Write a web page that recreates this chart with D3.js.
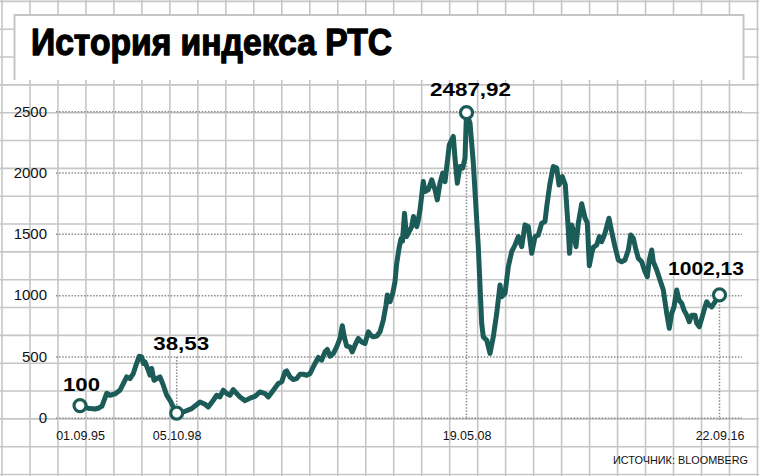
<!DOCTYPE html>
<html>
<head>
<meta charset="utf-8">
<script src="https://cdn.jsdelivr.net/npm/d3@7"></script>
<style>
  html, body { margin: 0; padding: 0; background: #fff; }
  svg { display: block; }
</style>
</head>
<body>
<div id="chart"></div>
<script>
// ---- data ----
const title = "История индекса РТС";
const source = "ИСТОЧНИК: BLOOMBERG";

// time as decimal years
const years = [
  1995.670, 1995.933, 1996.164, 1996.296, 1996.394, 1996.549, 1996.658, 1996.823, 1996.987, 1997.096,
  1997.208, 1997.317, 1997.425, 1997.514, 1997.623, 1997.702, 1997.755, 1997.811, 1997.919, 1997.975,
  1998.031, 1998.107, 1998.196, 1998.304, 1998.413, 1998.469, 1998.525, 1998.634, 1998.742, 1998.854,
  1999.072, 1999.348, 1999.622, 1999.786, 1999.895, 2000.060, 2000.172, 2000.280, 2000.389, 2000.501,
  2000.610, 2000.718, 2000.830, 2000.939, 2001.104, 2001.268, 2001.433, 2001.598, 2001.762, 2001.871,
  2002.036, 2002.200, 2002.312, 2002.421, 2002.477, 2002.586, 2002.694, 2002.806, 2002.915, 2003.023,
  2003.135, 2003.244, 2003.300, 2003.409, 2003.517, 2003.629, 2003.738, 2003.814, 2003.903, 2004.011,
  2004.123, 2004.232, 2004.308, 2004.374, 2004.453, 2004.561, 2004.637, 2004.726, 2004.835, 2004.947,
  2005.055, 2005.164, 2005.243, 2005.329, 2005.441, 2005.549, 2005.658, 2005.747, 2005.790, 2005.879,
  2005.968, 2006.043, 2006.099, 2006.175, 2006.241, 2006.290, 2006.356, 2006.422, 2006.481, 2006.593,
  2006.652, 2006.758, 2006.811, 2006.867, 2006.975, 2007.031, 2007.140, 2007.252, 2007.361, 2007.436,
  2007.525, 2007.614, 2007.690, 2007.831, 2007.963, 2008.019, 2008.095, 2008.184, 2008.273, 2008.348,
  2008.398, 2008.513, 2008.622, 2008.786, 2008.898, 2008.951, 2009.063, 2009.172, 2009.280, 2009.392,
  2009.501, 2009.557, 2009.666, 2009.774, 2009.886, 2009.995, 2010.104, 2010.216, 2010.324, 2010.433,
  2010.545, 2010.654, 2010.762, 2010.874, 2010.983, 2011.039, 2011.148, 2011.256, 2011.368, 2011.444,
  2011.552, 2011.651, 2011.750, 2011.790, 2011.862, 2011.938, 2012.004, 2012.080, 2012.192, 2012.300,
  2012.376, 2012.442, 2012.521, 2012.574, 2012.685, 2012.771, 2012.850, 2012.959, 2013.090, 2013.179,
  2013.288, 2013.397, 2013.508, 2013.617, 2013.726, 2013.805, 2013.891, 2013.980, 2014.055, 2014.167,
  2014.276, 2014.352, 2014.417, 2014.496, 2014.549, 2014.661, 2014.770, 2014.879, 2014.991, 2015.076,
  2015.155, 2015.231, 2015.320, 2015.396, 2015.485, 2015.560, 2015.649, 2015.735, 2015.814, 2015.923,
  2015.979, 2016.064, 2016.176, 2016.252, 2016.308, 2016.384, 2016.473, 2016.581, 2016.729
];
const values = [
  100, 78, 72, 80, 95, 200, 184, 195, 225, 279,
  333, 320, 361, 429, 502, 497, 443, 456, 388, 347,
  402, 306, 320, 333, 266, 225, 184, 143, 88, 38.53,
  47, 75, 129, 110, 88, 143, 184, 170, 225, 198,
  184, 230, 198, 170, 140, 160, 175, 211, 198, 170,
  225, 279, 293, 374, 382, 333, 312, 320, 355, 355,
  347, 361, 388, 443, 492, 470, 538, 557, 502, 524,
  578, 647, 750, 660, 584, 578, 538, 592, 647, 619,
  606, 701, 674, 660, 666, 701, 797, 919, 1001, 946,
  1015, 1109, 1260, 1380, 1460, 1440, 1668, 1477, 1505, 1559,
  1641, 1559, 1614, 1695, 1926, 1845, 1859, 1940, 1859, 1777,
  1913, 1995, 1926, 2226, 2294, 2118, 1913, 2049, 2036, 2118,
  2487.92, 2404, 2077, 1395, 770, 660, 633, 525, 660, 851,
  1083, 987, 1015, 1232, 1355, 1409, 1477, 1395, 1573, 1559,
  1341, 1477, 1491, 1587, 1600, 1722, 1913, 2049, 2036, 1899,
  1967, 1900, 1532, 1341, 1573, 1505, 1395, 1587, 1745, 1630,
  1590, 1240, 1341, 1390, 1409, 1477, 1436, 1505, 1627, 1518,
  1395, 1287, 1273, 1287, 1368, 1491, 1464, 1368, 1301, 1273,
  1191, 1150, 1287, 1368, 1273, 1205, 1123, 1042, 851, 729,
  851, 905, 1042, 960, 933, 878, 837, 783, 837, 837,
  770, 742, 837, 905, 946, 919, 905, 946, 1002.13
];

const yTicks = [0, 500, 1000, 1500, 2000, 2500];

// dated labels under the axis and their points in time
const dateLabels = ["01.09.95", "05.10.98", "19.05.08", "22.09.16"];
const dateYears = [1995.670, 1998.854, 2008.398, 2016.729];

// highlighted points
const calloutTexts = ["100", "38,53", "2487,92", "1002,13"];
const calloutYears = [1995.670, 1998.854, 2008.398, 2016.729];
const calloutValues = [100, 38.53, 2487.92, 1002.13];

// ---- drawing ----
const W = 759, H = 476;
const teal = "#1c5c58";
const gridCol = "#c6c6c6";
const dotCol = "#8c8c8c";

const svg = d3.select("#chart").append("svg")
  .attr("width", W).attr("height", H)
  .attr("viewBox", `0 0 ${W} ${H}`);

// background grid paper
const gridG = svg.append("g");
for (let gx = 2; gx <= W; gx += 27.98) {
  gridG.append("line").attr("x1", gx).attr("x2", gx).attr("y1", 0).attr("y2", H)
    .attr("stroke", gridCol).attr("stroke-width", 1.6);
}
for (let gy = 1.4; gy <= H + 1; gy += 27.83) {
  gridG.append("line").attr("x1", 0).attr("x2", W).attr("y1", gy).attr("y2", gy)
    .attr("stroke", gridCol).attr("stroke-width", 1.6);
}

// title box
svg.append("rect").attr("x", 14).attr("y", 14).attr("width", 730).attr("height", 66)
  .attr("fill", "#fff");
svg.append("path")
  .attr("d", "M14.5,80 V15 H743.5 V80")
  .attr("fill", "none").attr("stroke", gridCol).attr("stroke-width", 2);
svg.append("text")
  .attr("x", 31).attr("y", 55)
  .attr("font-family", "'Liberation Sans Narrow', 'Arial Narrow', 'Liberation Sans', Arial, sans-serif")
  .attr("font-weight", "bold").attr("font-size", 36)
  .attr("textLength", 361).attr("lengthAdjust", "spacingAndGlyphs")
  .attr("fill", "#000").attr("stroke", "#000").attr("stroke-width", 1.3)
  .attr("stroke-linejoin", "round")
  .text(title);

// scales
const x = d3.scaleLinear().domain([1995.670, 2016.729]).range([80, 719.5]);
const y = d3.scaleLinear().domain([0, 2500]).range([417.8, 111.2]);

// y axis: dotted grid lines + labels
const yAxis = d3.axisLeft(y).tickValues(yTicks).tickSize(-(742 - 56)).tickPadding(9)
  .tickFormat(d3.format("d"));
const yg = svg.append("g").attr("transform", "translate(56,0)").call(yAxis);
yg.select(".domain").remove();
yg.selectAll(".tick line")
  .attr("stroke", dotCol).attr("stroke-width", 1.5).attr("stroke-dasharray", "1.5,1.6");
yg.selectAll(".tick text")
  .attr("font-family", "'Liberation Sans', Arial, sans-serif")
  .attr("font-size", 15).attr("fill", "#111");

// x date labels
const xAxis = d3.axisBottom(x).tickValues(dateYears)
  .tickFormat((d, i) => dateLabels[i]).tickSize(0).tickPadding(0);
const xg = svg.append("g").attr("transform", "translate(0,431)").call(xAxis);
xg.select(".domain").remove();
xg.selectAll(".tick text")
  .attr("dy", "0.71em")
  .attr("font-family", "'Liberation Sans', Arial, sans-serif")
  .attr("font-size", 12.5).attr("fill", "#111");

// vertical dotted guide lines
const guides = svg.append("g").attr("stroke", dotCol).attr("stroke-width", 1.5)
  .attr("stroke-dasharray", "1.5,1.6");
guides.append("line")
  .attr("x1", x(calloutYears[1])).attr("x2", x(calloutYears[1]))
  .attr("y1", 357).attr("y2", y(calloutValues[1]));
guides.append("line")
  .attr("x1", x(calloutYears[2])).attr("x2", x(calloutYears[2]))
  .attr("y1", y(calloutValues[2])).attr("y2", y(0) + 2);
guides.append("line")
  .attr("x1", x(calloutYears[3])).attr("x2", x(calloutYears[3]))
  .attr("y1", y(calloutValues[3])).attr("y2", y(0) + 2);

// the index line
const series = years.map((yr, i) => ({ yr, v: values[i] }));
svg.append("path")
  .datum(series)
  .attr("fill", "none")
  .attr("stroke", teal).attr("stroke-width", 5)
  .attr("stroke-linejoin", "round").attr("stroke-linecap", "round")
  .attr("d", d3.line().x(d => x(d.yr)).y(d => y(d.v)));

// markers
svg.append("g").selectAll("circle")
  .data(calloutYears.map((yr, i) => ({ yr, v: calloutValues[i] })))
  .join("circle")
  .attr("cx", d => x(d.yr)).attr("cy", d => y(d.v)).attr("r", 6)
  .attr("fill", "#fff").attr("stroke", teal).attr("stroke-width", 3.2);

// callout labels (offsets relative to marker)
const labelDx = [1.5, 4.5, 4, -13.5];
const labelDy = [-15, -63, -16.5, -20];
const labelLen = [37, 56, 81, 76];
svg.append("g").selectAll("text")
  .data(calloutTexts)
  .join("text")
  .attr("x", (d, i) => x(calloutYears[i]) + labelDx[i])
  .attr("y", (d, i) => y(calloutValues[i]) + labelDy[i])
  .attr("text-anchor", "middle")
  .attr("font-family", "'Liberation Sans', Arial, sans-serif")
  .attr("font-weight", "bold").attr("font-size", 18.5)
  .attr("textLength", (d, i) => labelLen[i]).attr("lengthAdjust", "spacingAndGlyphs")
  .attr("fill", "#000")
  .text(d => d);

// source
svg.append("text")
  .attr("x", 748).attr("y", 464).attr("text-anchor", "end")
  .attr("font-family", "'Liberation Sans', Arial, sans-serif")
  .attr("font-size", 11.5).attr("fill", "#111")
  .attr("textLength", 135).attr("lengthAdjust", "spacingAndGlyphs")
  .text(source);
</script>
</body>
</html>
